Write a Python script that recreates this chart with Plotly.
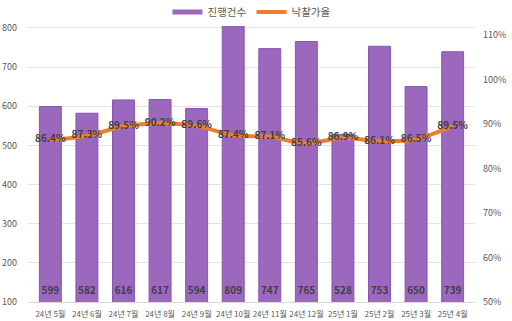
import plotly.graph_objects as go

categories = ["24년 5월", "24년 6월", "24년 7월", "24년 8월", "24년 9월", "24년 10월",
              "24년 11월", "24년 12월", "25년 1월", "25년 2월", "25년 3월", "25년 4월"]
counts = [599, 582, 616, 617, 594, 809, 747, 765, 528, 753, 650, 739]
rates = [86.4, 87.3, 89.5, 90.2, 89.6, 87.4, 87.1, 85.6, 86.9, 86.1, 86.5, 89.5]
left_ticks = [100, 200, 300, 400, 500, 600, 700, 800]
right_ticks = [50, 60, 70, 80, 90, 100, 110]

FONT = "Noto Sans CJK KR"
LABEL_Y = 127
PURPLE = "#9B68BE"

fig = go.Figure()
fig.add_trace(go.Bar(
    x=categories, y=counts, name="진행건수", showlegend=False,
    marker=dict(color=PURPLE, line=dict(color="#8656AE", width=1)),
    width=0.6,
))
# legend entry for bars (thin wide swatch as in reference)
fig.add_trace(go.Scatter(
    x=[None], y=[None], name="진행건수", mode="lines",
    line=dict(color=PURPLE, width=5), hoverinfo="skip",
))
fig.add_trace(go.Scatter(
    x=categories, y=[LABEL_Y] * len(counts), mode="text",
    text=[str(v) for v in counts], textposition="middle center",
    textfont=dict(family=FONT, size=10, color="#404040", weight="bold"),
    showlegend=False, hoverinfo="skip",
))
fig.add_trace(go.Scatter(
    x=categories, y=rates, name="낙찰가율", yaxis="y2",
    mode="lines+text", line=dict(color="#ED7D31", width=4, shape="spline", smoothing=0.6),
    text=[f"{v:.1f}%" for v in rates], textposition="middle center",
    textfont=dict(family=FONT, size=10, color="#404040", weight="bold"),
))

fig.update_layout(
    width=512, height=321,
    margin=dict(l=28, r=37, t=22, b=19, autoexpand=False),
    paper_bgcolor="white", plot_bgcolor="white",
    font=dict(family=FONT, size=9, color="#595959"),
    showlegend=True,
    legend=dict(orientation="h", x=0.5, xanchor="center", y=1.036, yanchor="middle",
                font=dict(family=FONT, size=10.5, color="#595959"),
                itemwidth=30, traceorder="normal", tracegroupgap=0),
    bargap=0.4,
    xaxis=dict(type="category", showgrid=False, showline=True, linecolor="#D9D9D9",
               tickfont=dict(family=FONT, size=8, color="#595959"), ticks="",
               ticklabelstandoff=4),
    yaxis=dict(range=[100, 815], tickvals=left_ticks, showgrid=True, gridcolor="#E3E3E3",
               zeroline=False, tickfont=dict(family=FONT, size=9, color="#595959"),
               ticklabelstandoff=10),
    yaxis2=dict(range=[50, 112.9], tickvals=right_ticks, ticktext=[f"{v}%" for v in right_ticks],
                overlaying="y", side="right", showgrid=False, zeroline=False,
                tickfont=dict(family=FONT, size=9, color="#595959"),
                ticklabelstandoff=7),
)

fig.write_html("out.html")
